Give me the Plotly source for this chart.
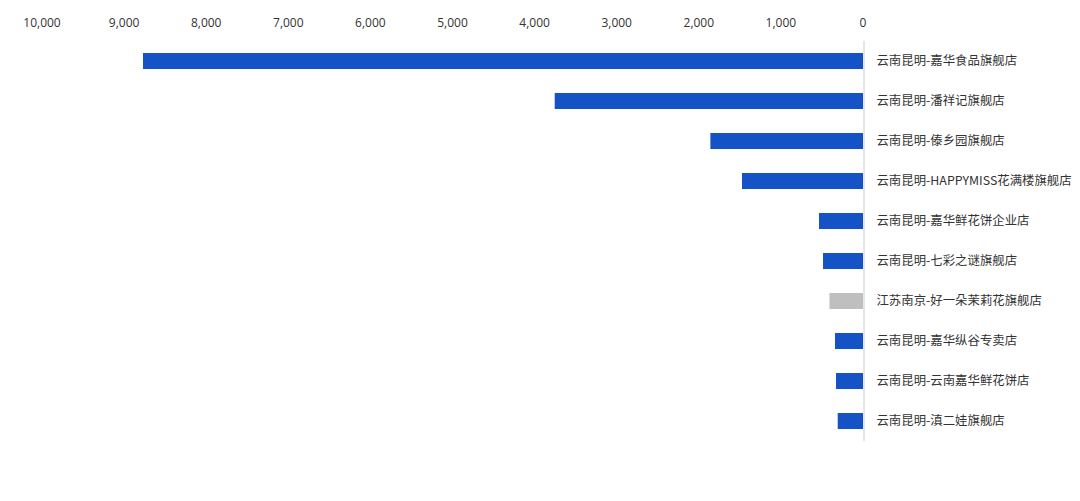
import plotly.graph_objects as go

stores = [
    "云南昆明-嘉华食品旗舰店",
    "云南昆明-潘祥记旗舰店",
    "云南昆明-傣乡园旗舰店",
    "云南昆明-HAPPYMISS花满楼旗舰店",
    "云南昆明-嘉华鲜花饼企业店",
    "云南昆明-七彩之谜旗舰店",
    "江苏南京-好一朵茉莉花旗舰店",
    "云南昆明-嘉华纵谷专卖店",
    "云南昆明-云南嘉华鲜花饼店",
    "云南昆明-滇二娃旗舰店",
]
sales = [8770, 3755, 1859, 1474, 536, 487, 409, 341, 329, 308]
colors = ["#1353C6"] * 6 + ["#BFBFBF"] + ["#1353C6"] * 3

tick_vals = [0, 1000, 2000, 3000, 4000, 5000, 6000, 7000, 8000, 9000, 10000]

fig = go.Figure(
    go.Bar(
        x=sales,
        y=stores,
        orientation="h",
        marker=dict(color=colors, line=dict(width=0)),
        width=0.4,
    )
)

fig.update_layout(
    width=1064,
    height=485,
    margin=dict(l=34, r=209, t=33, b=52, autoexpand=False),
    paper_bgcolor="white",
    plot_bgcolor="white",
    showlegend=False,
    font=dict(family="Noto Sans CJK SC, Noto Sans, sans-serif", size=12, color="#333333"),
)
fig.update_xaxes(
    side="top",
    range=[10000, 0],
    tickvals=tick_vals,
    tickformat=",",
    showgrid=False,
    zeroline=False,
    showline=False,
    ticks="",
    tickfont=dict(family="Open Sans, Noto Sans, sans-serif", size=12, color="#333333"),
    ticklabelstandoff=11,
    automargin=False,
)
fig.update_yaxes(
    side="right",
    autorange="reversed",
    showgrid=False,
    zeroline=False,
    showline=True,
    linecolor="#E6E6E6",
    linewidth=2,
    ticks="",
    ticklabelstandoff=9,
    tickfont=dict(family="Noto Sans CJK SC, sans-serif", size=12.4, color="#333333"),
    automargin=False,
)

fig.write_html("out.html")
